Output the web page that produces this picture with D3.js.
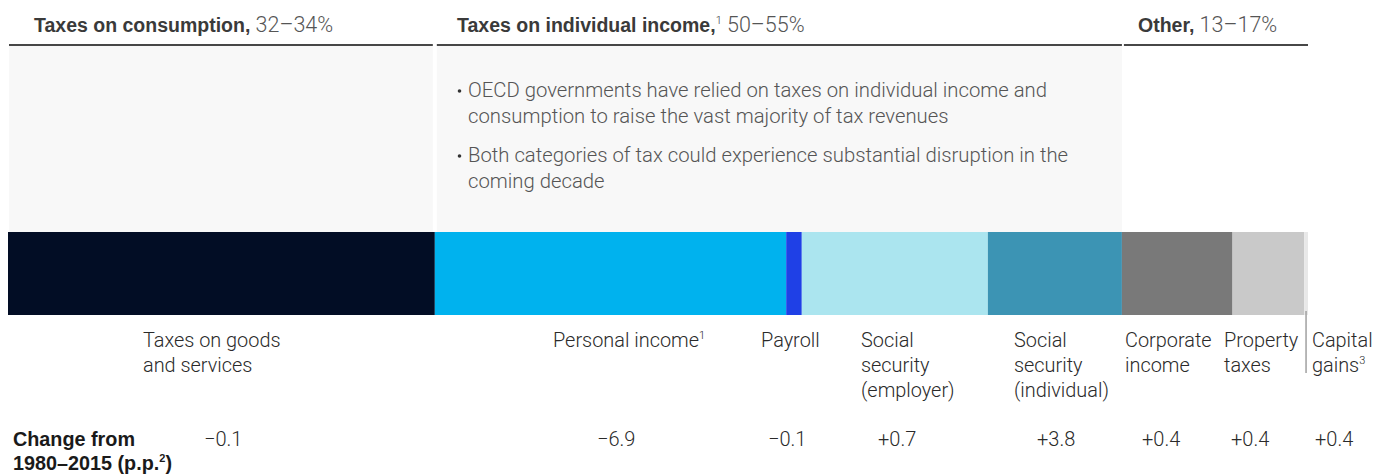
<!DOCTYPE html>
<html>
<head>
<meta charset="utf-8">
<script src="https://cdn.jsdelivr.net/npm/d3@7"></script>
<style>
  body { margin: 0; background: #fff; }
  svg { display: block; font-family: Roboto, "Noto Sans", sans-serif; }
  .bold { font-family: "Liberation Sans", Arial, sans-serif; font-weight: 700; }
  .light { font-family: Roboto, "Noto Sans", sans-serif; font-weight: 300; }
</style>
</head>
<body>
<svg id="chart_svg" width="1389" height="475"></svg>
<script>
// Data
var categories = ["Taxes on goods and services", "Personal income", "Payroll", "Social security (employer)",
    "Social security (individual)", "Corporate income", "Property taxes", "Capital gains"];
var labelLines = [["Taxes on goods", "and services"], ["Personal income"], ["Payroll"], ["Social", "security", "(employer)"],
    ["Social", "security", "(individual)"], ["Corporate", "income"], ["Property", "taxes"], ["Capital", "gains"]];
var labelNotes = ["", "1", "", "", "", "", "", "3"];
var shares = [32.8, 27.0, 1.2, 14.3, 10.3, 8.5, 5.5, 0.3];   // share of tax revenue, %
var changes = ["\u22120.1", "\u22126.9", "\u22120.1", "+0.7", "+3.8", "+0.4", "+0.4", "+0.4"];

// Groups shown in the header
var groupNames = ["Taxes on consumption,", "Taxes on individual income,", "Other,"];
var groupNotes = ["", "1", ""];
var groupRanges = ["32\u201334%", "50\u201355%", "13\u201317%"];
var groupFirst = [0, 1, 5];
var groupLast = [0, 4, 7];

var bullets = [
    ["OECD governments have relied on taxes on individual income and", "consumption to raise the vast majority of tax revenues"],
    ["Both categories of tax could experience substantial disruption in the", "coming decade"]
];

// Styles / layout
var colors = ["#020d25", "#00b2ee", "#1f40e6", "#abe5ef", "#3c94b4", "#797979", "#c9c9c9", "#e8e8e8"];
var headerLeft = [34, 457, 1138];
var labelLeft = [143, 553, 761, 861, 1014, 1125, 1224, 1312];
var valueLeft = [204, 597, 768, 878, 1037, 1142, 1231, 1315];

var svg = d3.select("#chart_svg");

var barTop = 232, barBottom = 315;
var lineY = 45;

// Scale: cumulative share -> x
var xScale = d3.scaleLinear()
    .domain([0, d3.sum(shares)])
    .range([8, 1308]);

var starts = [];
var acc = 0;
shares.forEach(function(v) { starts.push(acc); acc += v; });

// Grey panels + header rules + header text
groupNames.forEach(function(g, i) {
    var x0 = xScale(starts[groupFirst[i]]);
    var x1 = xScale(starts[groupLast[i]] + shares[groupLast[i]]);
    if (i < 2) {
        svg.append("rect")
            .attr("x", x0 + (i == 0 ? 1 : 2))
            .attr("y", lineY + 1)
            .attr("width", x1 - x0 - (i == 0 ? 3 : 2))
            .attr("height", barTop - lineY - 1)
            .style("fill", "#f8f8f8");
    }
    // header rule
    svg.append("line")
        .attr("x1", x0 + (i == 0 ? 1 : 2))
        .attr("x2", x1 - (i == 0 ? 2 : 0))
        .attr("y1", lineY)
        .attr("y2", lineY)
        .style("stroke", "#474747")
        .style("stroke-width", 2);

    // header text
    var t = svg.append("text")
        .attr("x", headerLeft[i])
        .attr("y", 32);
    t.append("tspan")
        .attr("class", "bold")
        .text(g)
        .style("font-size", "19.5px")
        .style("fill", "#3a3a3a");
    if (groupNotes[i]) {
        t.append("tspan")
            .attr("class", "light")
            .text(groupNotes[i])
            .attr("dy", -8)
            .style("font-size", "11px")
            .style("fill", "#3a3a3a");
        t.append("tspan")
            .attr("class", "light")
            .text(" " + groupRanges[i])
            .attr("dy", 8)
            .style("font-size", "21.5px")
            .style("fill", "#555");
    } else {
        t.append("tspan")
            .attr("class", "light")
            .text(" " + groupRanges[i])
            .style("font-size", "21.5px")
            .style("fill", "#555");
    }
});

// Bullet text in the middle panel
var bulletBase = [97, 162];
bullets.forEach(function(lines, i) {
    svg.append("circle")
        .attr("cx", 459.5)
        .attr("cy", bulletBase[i] - 6)
        .attr("r", 1.8)
        .style("fill", "#333");
    lines.forEach(function(line, j) {
        svg.append("text")
            .attr("class", "light")
            .attr("x", 468)
            .attr("y", bulletBase[i] + j * 26)
            .style("font-size", "20.3px")
            .style("fill", "#555")
            .text(line);
    });
});

// Stacked bar
svg.append("g")
    .selectAll("rect")
    .data(shares)
    .enter()
    .append("rect")
        .attr("x", function(d, i) { return xScale(starts[i]); })
        .attr("width", function(d, i) { return xScale(starts[i] + d) - xScale(starts[i]); })
        .attr("y", barTop)
        .attr("height", barBottom - barTop)
        .style("fill", function(d, i) { return colors[i]; });

// Leader for the tiny capital gains slice
var last = shares.length - 1;
svg.append("line")
    .attr("x1", xScale(starts[last] + shares[last] / 2))
    .attr("x2", xScale(starts[last] + shares[last] / 2))
    .attr("y1", barBottom - 4)
    .attr("y2", 373)
    .style("stroke", "#a0a0a0")
    .style("stroke-width", 1.5);

// Category labels
categories.forEach(function(c, i) {
    labelLines[i].forEach(function(line, j) {
        var t = svg.append("text")
            .attr("class", "light")
            .attr("x", labelLeft[i])
            .attr("y", 347 + j * 25)
            .style("font-size", "19.9px")
            .style("fill", "#2a2a2a");
        t.append("tspan").text(line);
        if (labelNotes[i] && j == labelLines[i].length - 1) {
            t.append("tspan")
                .text(labelNotes[i])
                .attr("dy", -8)
                .style("font-size", "11px");
        }
    });
});

// Change row
var ch = svg.append("text")
    .attr("class", "bold")
    .attr("x", 13)
    .attr("y", 446)
    .style("font-size", "19.8px")
    .style("fill", "#1a1a1a");
ch.append("tspan").text("Change from");
var ch2 = svg.append("text")
    .attr("class", "bold")
    .attr("x", 13)
    .attr("y", 470)
    .style("font-size", "19.8px")
    .style("fill", "#1a1a1a");
ch2.append("tspan").text("1980\u20132015 (p.p.");
ch2.append("tspan").text("2").attr("dy", -8).style("font-size", "11px");
ch2.append("tspan").text(")").attr("dy", 8);

svg.append("g")
    .selectAll("text")
    .data(changes)
    .enter()
    .append("text")
        .attr("class", "light")
        .attr("x", function(d, i) { return valueLeft[i]; })
        .attr("y", 446)
        .style("font-size", "20px")
        .style("fill", "#2a2a2a")
        .text(function(d) { return d; });
</script>
</body>
</html>
